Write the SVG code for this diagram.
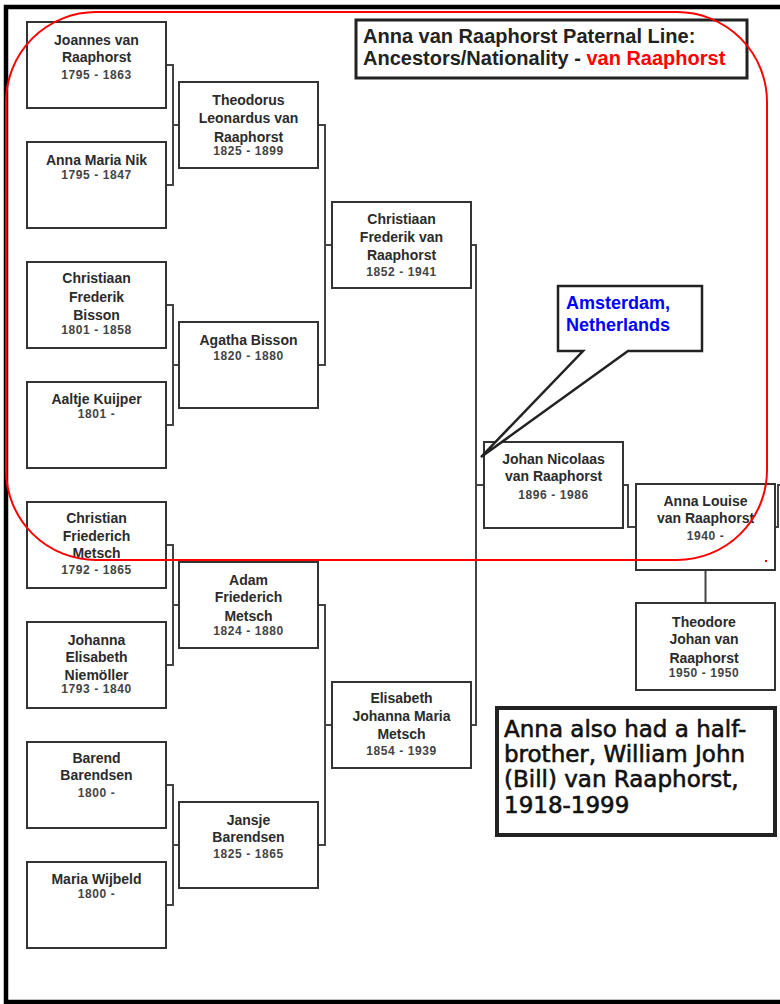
<svg xmlns="http://www.w3.org/2000/svg" width="780" height="1004" viewBox="0 0 780 1004">
<style>
.box{fill:#fff;stroke:#333;stroke-width:2}
.nm{font-family:'Liberation Sans',Arial,sans-serif;font-weight:bold;font-size:14px;fill:#2b2b2b;text-anchor:middle}
.dt{font-family:'Liberation Sans',Arial,sans-serif;font-weight:bold;font-size:12px;fill:#444;letter-spacing:0.6px;text-anchor:middle}
.conn{fill:none;stroke:#444;stroke-width:2}
.ttl{font-family:'Liberation Sans',Arial,sans-serif;font-weight:bold;font-size:20px;fill:#222}
.note{font-family:'DejaVu Sans',Verdana,sans-serif;font-size:23px;fill:#111;stroke:#111;stroke-width:0.6}
.loc{font-family:'Liberation Sans',Arial,sans-serif;font-weight:bold;font-size:18px;fill:#0000ff}
</style>
<rect x="0" y="0" width="780" height="1004" fill="#fff"/>
<rect x="6" y="7" width="800" height="995" fill="none" stroke="#000" stroke-width="4.5"/>

<g id="connectors">
<path class="conn" d="M166,65 H173 V185 H166 M173,125 H179"/>
<path class="conn" d="M166,305 H173 V425 H166 M173,365 H179"/>
<path class="conn" d="M166,545 H173 V665 H166 M173,605 H179"/>
<path class="conn" d="M166,785 H173 V905 H166 M173,845 H179"/>
<path class="conn" d="M318,125 H325 V365 H318 M325,245 H332"/>
<path class="conn" d="M318,605 H325 V845 H318 M325,725 H332"/>
<path class="conn" d="M471,245 H476 V725 H471 M476,485 H484"/>
<path class="conn" d="M623,485 H628 V527 H636"/>
<path class="conn" d="M705.5,570 V603"/>
<path class="conn" d="M775,527 H778 V485 H782"/>
</g>

<g id="n-joannes"><rect class="box" x="27" y="22" width="139" height="86"/>
<text class="nm" x="96.5" y="45">Joannes van</text><text class="nm" x="96.5" y="62">Raaphorst</text><text class="dt" x="96.5" y="79">1795 - 1863</text></g>
<g id="n-annamaria"><rect class="box" x="27" y="142" width="139" height="86"/>
<text class="nm" x="96.5" y="165">Anna Maria Nik</text><text class="dt" x="96.5" y="179">1795 - 1847</text></g>
<g id="n-christiaanb"><rect class="box" x="27" y="262" width="139" height="86"/>
<text class="nm" x="96.5" y="283">Christiaan</text><text class="nm" x="96.5" y="302">Frederik</text><text class="nm" x="96.5" y="320">Bisson</text><text class="dt" x="96.5" y="334">1801 - 1858</text></g>
<g id="n-aaltje"><rect class="box" x="27" y="382" width="139" height="86"/>
<text class="nm" x="96.5" y="404">Aaltje Kuijper</text><text class="dt" x="96.5" y="418">1801 -</text></g>
<g id="n-christianm"><rect class="box" x="27" y="502" width="139" height="86"/>
<text class="nm" x="96.5" y="523">Christian</text><text class="nm" x="96.5" y="541">Friederich</text><text class="nm" x="96.5" y="558">Metsch</text><text class="dt" x="96.5" y="574">1792 - 1865</text></g>
<g id="n-johanna"><rect class="box" x="27" y="622" width="139" height="86"/>
<text class="nm" x="96.5" y="645">Johanna</text><text class="nm" x="96.5" y="662">Elisabeth</text><text class="nm" x="96.5" y="680">Niemöller</text><text class="dt" x="96.5" y="693">1793 - 1840</text></g>
<g id="n-barend"><rect class="box" x="27" y="742" width="139" height="86"/>
<text class="nm" x="96.5" y="763">Barend</text><text class="nm" x="96.5" y="780">Barendsen</text><text class="dt" x="96.5" y="797">1800 -</text></g>
<g id="n-maria"><rect class="box" x="27" y="862" width="139" height="86"/>
<text class="nm" x="96.5" y="884">Maria Wijbeld</text><text class="dt" x="96.5" y="898">1800 -</text></g>

<g id="n-theodorus"><rect class="box" x="179" y="82" width="139" height="86"/>
<text class="nm" x="248.5" y="105">Theodorus</text><text class="nm" x="248.5" y="123">Leonardus van</text><text class="nm" x="248.5" y="142">Raaphorst</text><text class="dt" x="248.5" y="155">1825 - 1899</text></g>
<g id="n-agatha"><rect class="box" x="179" y="322" width="139" height="86"/>
<text class="nm" x="248.5" y="345">Agatha Bisson</text><text class="dt" x="248.5" y="360">1820 - 1880</text></g>
<g id="n-adam"><rect class="box" x="179" y="562" width="139" height="86"/>
<text class="nm" x="248.5" y="585">Adam</text><text class="nm" x="248.5" y="602">Friederich</text><text class="nm" x="248.5" y="621">Metsch</text><text class="dt" x="248.5" y="635">1824 - 1880</text></g>
<g id="n-jansje"><rect class="box" x="179" y="802" width="139" height="86"/>
<text class="nm" x="248.5" y="825">Jansje</text><text class="nm" x="248.5" y="842">Barendsen</text><text class="dt" x="248.5" y="858">1825 - 1865</text></g>

<g id="n-christiaanvr"><rect class="box" x="332" y="202" width="139" height="86"/>
<text class="nm" x="401.5" y="224">Christiaan</text><text class="nm" x="401.5" y="242">Frederik van</text><text class="nm" x="401.5" y="260">Raaphorst</text><text class="dt" x="401.5" y="276">1852 - 1941</text></g>
<g id="n-elisabeth"><rect class="box" x="332" y="682" width="139" height="86"/>
<text class="nm" x="401.5" y="703">Elisabeth</text><text class="nm" x="401.5" y="721">Johanna Maria</text><text class="nm" x="401.5" y="739">Metsch</text><text class="dt" x="401.5" y="755">1854 - 1939</text></g>

<g id="n-johan"><rect class="box" x="484" y="442" width="139" height="86"/>
<text class="nm" x="553.5" y="464">Johan Nicolaas</text><text class="nm" x="553.5" y="481">van Raaphorst</text><text class="dt" x="553.5" y="499">1896 - 1986</text></g>
<g id="n-annalouise"><rect class="box" x="636" y="484" width="139" height="86"/>
<text class="nm" x="705.5" y="506">Anna Louise</text><text class="nm" x="705.5" y="523">van Raaphorst</text><text class="dt" x="705.5" y="540">1940 -</text></g>
<g id="n-theodore"><rect class="box" x="636" y="603" width="139" height="87"/>
<text class="nm" x="704" y="627">Theodore</text><text class="nm" x="704" y="644">Johan van</text><text class="nm" x="704" y="663">Raaphorst</text><text class="dt" x="704" y="677">1950 - 1950</text></g>

<g id="title"><rect x="356" y="20" width="391" height="58" fill="#fff" stroke="#222" stroke-width="3"/>
<text class="ttl" x="363" y="43">Anna van Raaphorst Paternal Line:</text>
<text class="ttl" x="363" y="65">Ancestors/Nationality - <tspan fill="#ff0000">van Raaphorst</tspan></text></g>

<g id="note"><rect x="497" y="708" width="278" height="127" fill="#fff" stroke="#222" stroke-width="4"/>
<text class="note" x="504" y="737">Anna also had a half-</text>
<text class="note" x="504" y="762">brother, William John</text>
<text class="note" x="504" y="787">(Bill) van Raaphorst,</text>
<text class="note" x="504" y="813">1918-1999</text></g>

<g id="callout"><path d="M583,351 H558 V286 H702 V351 H628 L481,457 Z" fill="#fff" stroke="#222" stroke-width="2.5" stroke-linejoin="miter"/>
<text class="loc" x="566" y="309">Amsterdam,</text>
<text class="loc" x="566" y="331">Netherlands</text></g>

<g id="highlight"><rect x="6" y="12" width="761" height="548" rx="90" ry="90" fill="none" stroke="#ff0000" stroke-width="2"/>
<rect x="765" y="560" width="2" height="2" fill="#ff0000"/></g>
</svg>
